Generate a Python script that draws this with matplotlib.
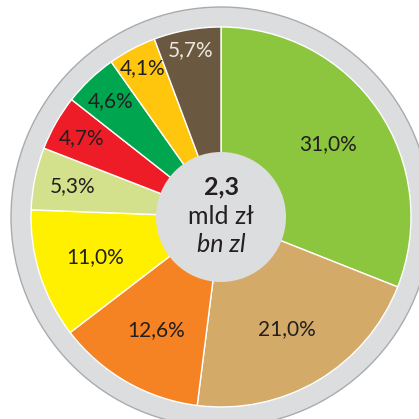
import matplotlib
matplotlib.use("Agg")
import matplotlib.pyplot as plt
from matplotlib.patches import Circle
import numpy as np

# dane
udzialy = [31.0, 21.0, 12.6, 11.0, 5.3, 4.7, 4.6, 4.1, 5.7]
etykiety = ["31,0%", "21,0%", "12,6%", "11,0%", "5,3%", "4,7%", "4,6%", "4,1%", "5,7%"]
kolory = ["#8cc63f", "#d3aa68", "#f58323", "#fff000", "#d4e18c",
          "#ed1c27", "#00a550", "#ffc60d", "#6b5841"]
kolory_tekstu = ["#231f20"] * 8 + ["#ede7dc"]
# odleglosc etykiet od srodka (w pikselach)
promien_etykiet = [130, 130, 130, 132, 152, 160, 160, 168, 170]

plt.rcParams['font.family'] = ['Lato', 'DejaVu Sans']

fig = plt.figure(figsize=(4.19, 4.19), dpi=100)
ax = fig.add_axes([0, 0, 1, 1])

srodek = (221, 202)

# szary pierscien
ax.add_patch(Circle(srodek, 210, facecolor="#dcdddf", edgecolor="#a9abae", linewidth=1.0, zorder=0))

ax.pie(udzialy, colors=kolory, startangle=90, counterclock=False,
       radius=190, center=srodek, frame=True,
       wedgeprops=dict(edgecolor="white", linewidth=1.0))
ax.set_xlim(0, 419)
ax.set_ylim(0, 419)
ax.set_aspect('equal')
ax.axis('off')

kat = 90.0
for w, lab, kt, r in zip(udzialy, etykiety, kolory_tekstu, promien_etykiet):
    srodkowy = np.deg2rad(kat - w * 3.6 / 2)
    kat -= w * 3.6
    x = srodek[0] + r * np.cos(srodkowy)
    y = srodek[1] + r * np.sin(srodkowy)
    ax.text(x, y, lab, ha='center', va='center', fontsize=15, color=kt)

# kolo w srodku
ax.add_patch(Circle(srodek, 65, facecolor="#dcdddf", edgecolor="none", zorder=5))
ax.text(srodek[0], 232, "2,3", ha='center', va='center', fontsize=18, weight='bold', color="#231f20", zorder=6)
ax.text(srodek[0], 203, "mld zł", ha='center', va='center', fontsize=18, color="#231f20", zorder=6)
ax.text(srodek[0], 175, "bn zl", ha='center', va='center', fontsize=18, style='italic', color="#231f20", zorder=6)

fig.savefig("out.png", dpi=100)
